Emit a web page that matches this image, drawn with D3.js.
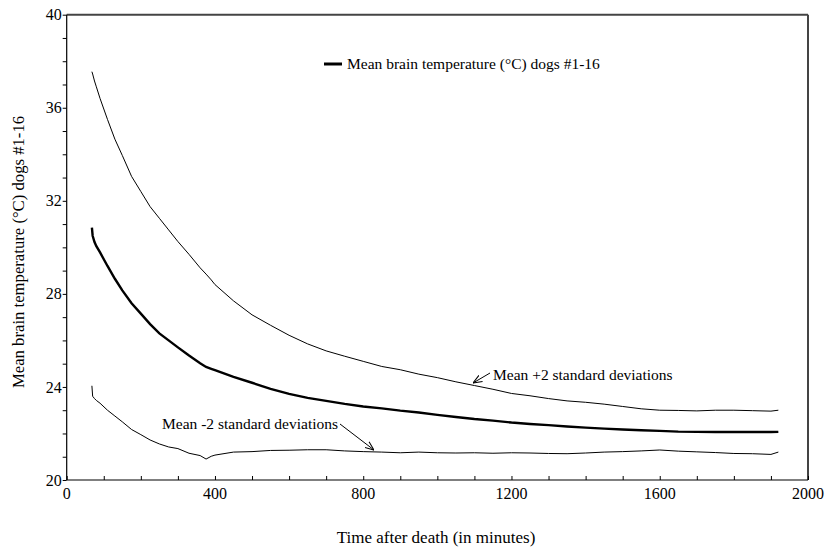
<!DOCTYPE html>
<html><head><meta charset="utf-8">
<script src="https://cdn.jsdelivr.net/npm/d3@7"></script>
<style>
body{margin:0;background:#fff;}
svg text{font-family:"Liberation Serif","Times New Roman",serif;fill:#000;}
</style></head>
<body><svg id="chart" width="826" height="551"></svg>
<script>
// time after death (minutes)
const timeMin = [68,70,75,80,90,110,130,150,175,200,225,250,275,300,330,360,376,390,400,450,500,550,600,650,700,750,800,850,900,950,1000,1050,1100,1150,1200,1250,1300,1350,1400,1450,1500,1550,1600,1650,1700,1750,1800,1850,1900,1920];
// mean brain temperature
const meanTemp = [30.85,30.5,30.23,30.05,29.78,29.2,28.65,28.15,27.6,27.15,26.7,26.3,26.0,25.7,25.35,25.02,24.86,24.78,24.72,24.43,24.18,23.92,23.7,23.53,23.4,23.27,23.16,23.08,22.98,22.9,22.8,22.71,22.62,22.55,22.47,22.41,22.36,22.3,22.25,22.21,22.17,22.14,22.11,22.08,22.07,22.06,22.06,22.07,22.06,22.07];
// mean + 2 SD
const upperTemp = [37.55,37.45,37.15,36.9,36.4,35.5,34.65,33.95,33.05,32.4,31.75,31.25,30.75,30.25,29.7,29.12,28.85,28.6,28.4,27.7,27.1,26.65,26.22,25.85,25.55,25.32,25.1,24.88,24.74,24.55,24.4,24.22,24.06,23.9,23.72,23.62,23.5,23.4,23.34,23.26,23.16,23.06,23.0,22.99,22.97,23.0,23.0,22.98,22.96,23.0];
// mean - 2 SD
const lowerTemp = [24.05,23.6,23.5,23.42,23.3,23.0,22.75,22.5,22.17,21.95,21.72,21.55,21.42,21.35,21.15,21.05,20.9,21.02,21.07,21.2,21.22,21.27,21.28,21.3,21.3,21.25,21.22,21.2,21.17,21.2,21.17,21.16,21.17,21.15,21.17,21.16,21.14,21.13,21.16,21.2,21.22,21.25,21.29,21.24,21.21,21.18,21.14,21.13,21.1,21.2];

const xTicks = [0,400,800,1200,1600,2000];
const yTicks = [20,24,28,32,36,40];
const legendLabel = "Mean brain temperature (°C) dogs #1-16";
const upperLabel = "Mean +2 standard deviations";
const lowerLabel = "Mean -2 standard deviations";
const xTitle = "Time after death (in minutes)";
const yTitle = "Mean brain temperature (°C) dogs #1-16";

const svg = d3.select("#chart");
const m = {l:66.7, r:808, t:14.7, b:480};
const x = d3.scaleLinear().domain([0,2000]).range([m.l, m.r]);
const y = d3.scaleLinear().domain([20,40]).range([m.b, m.t]);

// frame top/right
svg.append("line").attr("x1",m.l).attr("x2",m.r).attr("y1",m.t).attr("y2",m.t)
  .attr("stroke","#444").attr("stroke-width",2);
svg.append("line").attr("x1",m.r).attr("x2",m.r).attr("y1",m.t).attr("y2",m.b)
  .attr("stroke","#444").attr("stroke-width",2);

// x axis: minor ticks inward every 100
const gx = svg.append("g").attr("transform",`translate(0,${m.b})`);
gx.call(d3.axisTop(x).tickValues(d3.range(0,2001,100)).tickSize(4).tickFormat(""))
  .call(g=>g.selectAll("line").attr("stroke","#000"))
  .call(g=>g.select(".domain").remove());
gx.append("line").attr("x1",m.l).attr("x2",m.r).attr("stroke","#000").attr("stroke-width",1.2);
gx.selectAll("text.xl").data(xTicks).join("text").attr("class","xl")
  .attr("x",d=>x(d)).attr("y",19).attr("text-anchor","middle").attr("font-size",16).text(d=>d);

// y axis: minor ticks outward every 1
const gy = svg.append("g").attr("transform",`translate(${m.l},0)`);
gy.call(d3.axisLeft(y).tickValues(d3.range(20,40.1,1)).tickSize(4).tickFormat(""))
  .call(g=>g.selectAll("line").attr("stroke","#000"))
  .call(g=>g.select(".domain").remove());
gy.append("line").attr("y1",m.t).attr("y2",m.b).attr("stroke","#000").attr("stroke-width",1.2);
gy.selectAll("text.yl").data(yTicks).join("text").attr("class","yl")
  .attr("x",-5).attr("y",d=>y(d)).attr("dy","0.35em").attr("text-anchor","end").attr("font-size",16).text(d=>d);

// lines
const line = arr => d3.line().x((d,i)=>x(timeMin[i])).y(d=>y(d))(arr);
svg.append("path").attr("d",line(upperTemp)).attr("fill","none").attr("stroke","#000").attr("stroke-width",1);
svg.append("path").attr("d",line(lowerTemp)).attr("fill","none").attr("stroke","#000").attr("stroke-width",1);
svg.append("path").attr("d",line(meanTemp)).attr("fill","none").attr("stroke","#000").attr("stroke-width",2.4);

// legend
svg.append("line").attr("x1",324).attr("x2",342).attr("y1",64).attr("y2",64).attr("stroke","#000").attr("stroke-width",3);
svg.append("text").attr("x",347).attr("y",69).attr("font-size",15.5).text(legendLabel);

// annotations
svg.append("defs").append("marker").attr("id","arr").attr("viewBox","0 0 10 10")
  .attr("refX",10).attr("refY",5).attr("markerWidth",9).attr("markerHeight",9)
  .attr("markerUnits","userSpaceOnUse").attr("orient","auto")
  .append("path").attr("d","M0,1 L10,5 L0,9").attr("fill","none").attr("stroke","#000").attr("stroke-width",1.2);

svg.append("text").attr("x",493).attr("y",380).attr("font-size",15.5).text(upperLabel);
svg.append("line").attr("x1",490).attr("y1",373).attr("x2",473).attr("y2",383)
  .attr("stroke","#000").attr("stroke-width",1).attr("marker-end","url(#arr)");

svg.append("text").attr("x",162).attr("y",429).attr("font-size",15.5).text(lowerLabel);
svg.append("line").attr("x1",340).attr("y1",424).attr("x2",374).attr("y2",450)
  .attr("stroke","#000").attr("stroke-width",1).attr("marker-end","url(#arr)");

// axis titles
svg.append("text").attr("x",436).attr("y",543).attr("text-anchor","middle").attr("font-size",17).text(xTitle);
svg.append("text").attr("transform",`translate(24,252) rotate(-90)`).attr("text-anchor","middle").attr("font-size",16.7).text(yTitle);
</script></body></html>
